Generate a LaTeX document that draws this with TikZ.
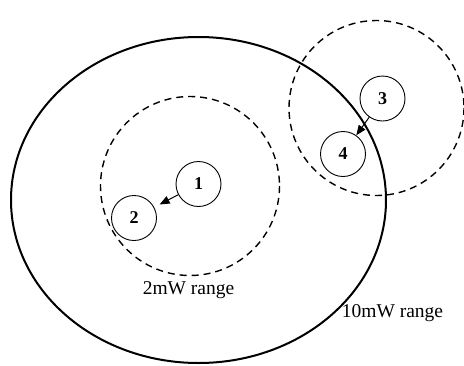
\documentclass[tikz,border=0pt]{standalone}
\usepackage{fontspec}
\setmainfont{Liberation Serif}
\usetikzlibrary{arrows.meta}
\begin{document}
\begin{tikzpicture}[x=1pt,y=-1pt,
  rangeline/.style={line width=2pt},
  smallrange/.style={line width=1.4pt,dash pattern=on 7pt off 5pt},
  nodecirc/.style={circle,draw,line width=0.9pt,minimum size=45pt,inner sep=0pt,font=\fontsize{18}{20}\selectfont\bfseries},
  lbl/.style={font=\fontsize{19.5}{22}\selectfont,inner sep=0pt},
  arr/.style={line width=1pt,-{Triangle[length=10pt,width=8pt]}}]
\useasboundingbox (0,0) rectangle (464,365);
\draw[rangeline] (198.5,200) ellipse [x radius=187.5, y radius=163];
\draw[smallrange] (190,186) circle [radius=89.5];
\draw[smallrange] (376.5,108) circle [radius=87.5];
\node[nodecirc] (n1) at (198.5,184) {1};
\node[nodecirc] (n2) at (134,218) {2};
\node[nodecirc] (n3) at (382.5,98.5) {3};
\node[nodecirc] (n4) at (343,154) {4};
\draw[arr,shorten >=6pt] (n1) -- (n2);
\draw[arr] (n3) -- (n4);
\node[lbl] (l2) at (188.5,290) {2mW range};
\node[lbl] (l10) at (392.5,313) {10mW range};
\end{tikzpicture}
\end{document}
